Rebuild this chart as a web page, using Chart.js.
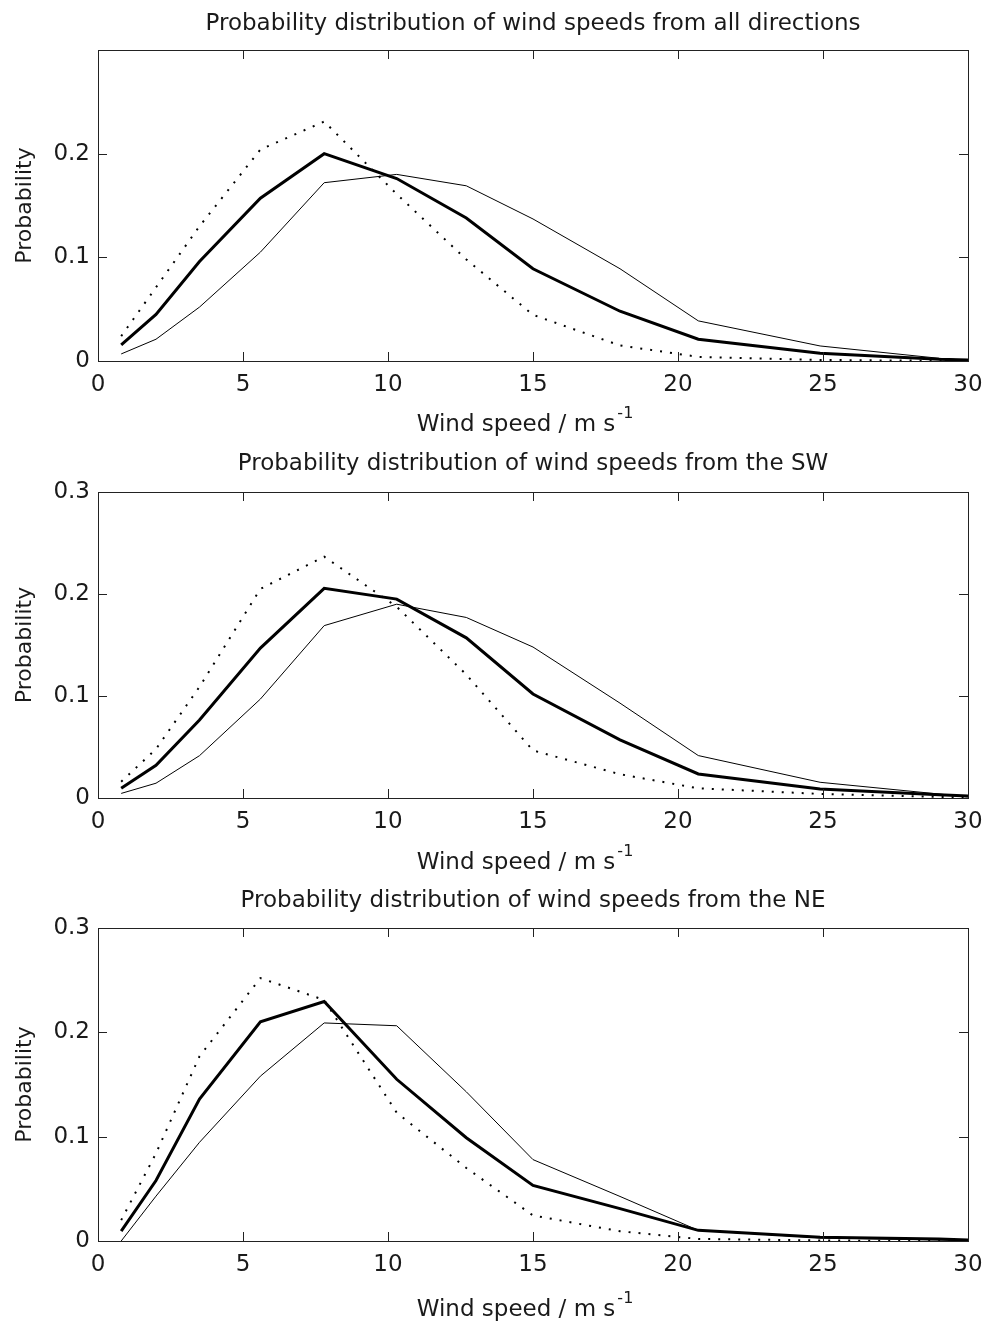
<!DOCTYPE html>
<html>
<head>
<meta charset="utf-8">
<script src="https://cdn.jsdelivr.net/npm/chart.js@4.4.1/dist/chart.umd.min.js"></script>
<style>
  html, body { margin: 0; padding: 0; background: #fff; }
  .panel { position: absolute; left: 0; width: 984px; }
</style>
</head>
<body>
<div class="panel" style="top:0px;height:440px"><canvas id="c1" width="984" height="440"></canvas></div>
<div class="panel" style="top:440px;height:440px"><canvas id="c2" width="984" height="440"></canvas></div>
<div class="panel" style="top:880px;height:444px"><canvas id="c3" width="984" height="444"></canvas></div>
<script>
// wind speed bins (m/s) shared by every panel
const windSpeed = [0.8, 2.0, 3.5, 5.6, 7.8, 10.3, 12.7, 15.0, 18.0, 20.7, 24.9, 29.0, 30.0];

// all directions
const allThick  = [0.0155, 0.045, 0.096, 0.157, 0.200, 0.176, 0.138, 0.089, 0.048, 0.021, 0.0074, 0.0016, 0.001];
const allThin   = [0.0068, 0.021, 0.052, 0.105, 0.172, 0.180, 0.169, 0.137, 0.089, 0.0387, 0.0145, 0.0026, 0.0006];
const allDotted = [0.024, 0.071, 0.130, 0.204, 0.231, 0.161, 0.098, 0.0445, 0.015, 0.004, 0.001, 0.0002, 0.0];

// from the SW
const swThick  = [0.0095, 0.032, 0.0765, 0.147, 0.2055, 0.195, 0.157, 0.102, 0.057, 0.0236, 0.0089, 0.0033, 0.002];
const swThin   = [0.0045, 0.0145, 0.0415, 0.097, 0.169, 0.190, 0.177, 0.148, 0.093, 0.0416, 0.0154, 0.0039, 0.001];
const swDotted = [0.016, 0.048, 0.109, 0.205, 0.2366, 0.1875, 0.121, 0.0466, 0.0233, 0.0095, 0.004, 0.001, 0.0005];

// from the NE
const neThick  = [0.0095, 0.058, 0.136, 0.210, 0.2295, 0.155, 0.099, 0.0533, 0.031, 0.0102, 0.0035, 0.002, 0.001];
const neThin   = [0.0, 0.043, 0.0946, 0.158, 0.209, 0.2063, 0.143, 0.078, 0.0427, 0.0102, 0.003, 0.001, 0.0];
const neDotted = [0.02, 0.084, 0.177, 0.252, 0.231, 0.123, 0.07, 0.0245, 0.0093, 0.002, 0.0005, 0.0, 0.0];

const xTicks = [0, 5, 10, 15, 20, 25, 30];
const yTicks = [0, 0.1, 0.2, 0.3];

const titles = [
  'Probability distribution of wind speeds from all directions',
  'Probability distribution of wind speeds from the SW',
  'Probability distribution of wind speeds from the NE'
];
const xLabel = 'Wind speed / m s';
const xLabelSup = '-1';
const yLabel = 'Probability';

const FONT = '"DejaVu Sans", sans-serif';
const INK = '#1a1a1a';

function pts(vals) {
  return windSpeed.map((w, i) => ({ x: w, y: vals[i] }));
}

// matlab style box, inward ticks and the text around the axes
const frame = {
  id: 'frame',
  afterDraw(chart, args, opts) {
    const { ctx, chartArea: a, scales: { x, y } } = chart;
    ctx.save();
    ctx.strokeStyle = '#222';
    ctx.lineWidth = 1;
    ctx.strokeRect(a.left + 0.5, a.top + 0.5, a.right - a.left, a.bottom - a.top);
    ctx.beginPath();
    xTicks.forEach(v => {
      const px = Math.round(x.getPixelForValue(v)) + 0.5;
      ctx.moveTo(px, a.bottom); ctx.lineTo(px, a.bottom - 9);
      ctx.moveTo(px, a.top); ctx.lineTo(px, a.top + 9);
    });
    yTicks.forEach(v => {
      const py = Math.round(y.getPixelForValue(v)) + 0.5;
      ctx.moveTo(a.left, py); ctx.lineTo(a.left + 9, py);
      ctx.moveTo(a.right, py); ctx.lineTo(a.right - 9, py);
    });
    ctx.stroke();

    ctx.fillStyle = INK;
    ctx.textBaseline = 'middle';
    ctx.textAlign = 'center';
    const cx = (a.left + a.right) / 2;
    ctx.font = '23px ' + FONT;
    ctx.fillText(opts.title, cx, a.top + opts.titleOff);

    // x label with superscript
    ctx.font = '23px ' + FONT;
    const w1 = ctx.measureText(xLabel).width;
    ctx.font = '16px ' + FONT;
    const w2 = ctx.measureText(xLabelSup).width;
    const start = cx - 8 - (w1 + w2 + 2) / 2;
    const ly = a.bottom + opts.labelOff;
    ctx.textAlign = 'left';
    ctx.font = '23px ' + FONT;
    ctx.fillText(xLabel, start, ly);
    ctx.font = '16px ' + FONT;
    ctx.fillText(xLabelSup, start + w1 + 2, ly - 11);

    // y label
    ctx.translate(25, (a.top + a.bottom) / 2);
    ctx.rotate(-Math.PI / 2);
    ctx.textAlign = 'center';
    ctx.font = '22px ' + FONT;
    ctx.fillText(yLabel, 0, 0);
    ctx.restore();
  }
};

function makeChart(id, title, thick, thin, dotted, padTop, boxBottom, hideTop, titleOff, labelOff) {
  const canvas = document.getElementById(id);
  const H = canvas.height;
  return new Chart(canvas, {
    type: 'line',
    data: {
      datasets: [
        { data: pts(thin), borderColor: '#000', borderWidth: 1 },
        { data: pts(dotted), borderColor: '#000', borderWidth: 2, borderDash: [2, 8] },
        { data: pts(thick), borderColor: '#000', borderWidth: 3 }
      ]
    },
    options: {
      responsive: false,
      animation: false,
      parsing: false,
      layout: { padding: { top: padTop, right: 16, left: 0, bottom: 0 } },
      elements: { point: { radius: 0 }, line: { tension: 0, borderCapStyle: 'butt' } },
      plugins: {
        legend: { display: false },
        tooltip: { enabled: false },
        frame: { title: title, titleOff: titleOff, labelOff: labelOff }
      },
      scales: {
        x: {
          type: 'linear', min: 0, max: 30,
          grid: { display: false, drawTicks: false },
          border: { display: false },
          afterBuildTicks: s => { s.ticks = xTicks.map(v => ({ value: v })); },
          afterFit: s => { s.height = H - boxBottom; s.paddingLeft = 0; s.paddingRight = 0; },
          ticks: { padding: 10, color: INK, font: { family: FONT, size: 23 }, callback: v => String(v) }
        },
        y: {
          type: 'linear', min: 0, max: 0.3,
          grid: { display: false, drawTicks: false },
          border: { display: false },
          afterBuildTicks: s => { s.ticks = yTicks.map(v => ({ value: v })); },
          afterFit: s => { s.width = 98; s.paddingTop = 0; s.paddingBottom = 0; },
          ticks: {
            padding: 8, color: INK, font: { family: FONT, size: 23 },
            callback: v => (hideTop && v > 0.25) ? '' : (v === 0 ? '0' : v.toFixed(1))
          }
        }
      }
    },
    plugins: [frame]
  });
}

makeChart('c1', titles[0], allThick, allThin, allDotted, 50, 361, true, -26, 64);
makeChart('c2', titles[1], swThick, swThin, swDotted, 52, 358, false, -28, 65);
makeChart('c3', titles[2], neThick, neThin, neDotted, 48, 361, false, -27, 69);
</script>
</body>
</html>
